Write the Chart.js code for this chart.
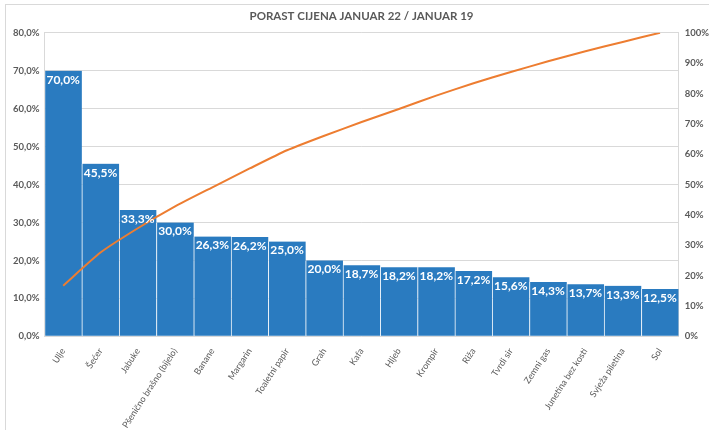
<!DOCTYPE html>
<html>
<head>
<meta charset="utf-8">
<script src="https://cdn.jsdelivr.net/npm/chart.js@4.4.1/dist/chart.umd.min.js"></script>
<style>
  body { margin: 0; background: #fff; }
  #wrap { position: relative; width: 709px; height: 430px; }
  #frame { position: absolute; left: 5px; top: 4px; right: 0; bottom: 0;
           border-left: 1px solid #d9d9d9; border-top: 1px solid #d9d9d9; pointer-events: none; }
</style>
</head>
<body>
<div id="wrap">
  <canvas id="chart" width="709" height="430"></canvas>
  <div id="frame"></div>
</div>
<script>
// categories
const categories = ["Ulje", "Šećer", "Jabuke", "Pšenično brašno (bijelo)", "Banane", "Margarin",
    "Toaletni papir", "Grah", "Kafa", "Hljeb", "Krompir", "Riža", "Tvrdi sir", "Zemni gas",
    "Junetina bez kosti", "Svježa piletina", "Sol"];
// price increase, %
const increase = [70.0, 45.5, 33.3, 30.0, 26.3, 26.2, 25.0, 20.0, 18.7, 18.2, 18.2, 17.2, 15.6, 14.3, 13.7, 13.3, 12.5];
// cumulative share, % (right axis)
const cumulative = [16.7, 27.6, 35.6, 42.8, 49.1, 55.3, 61.3, 66.1, 70.6, 74.9, 79.3, 83.4, 87.1, 90.6, 93.9, 97.0, 100.0];

const leftTicks = [0, 10, 20, 30, 40, 50, 60, 70, 80];
const rightTicks = [0, 10, 20, 30, 40, 50, 60, 70, 80, 90, 100];

const fmt = v => v.toFixed(1).replace('.', ',') + '%';
const grey = '#595959';

const barLabels = {
    id: 'barLabels',
    afterDatasetsDraw(chart) {
        const ctx = chart.ctx;
        const meta = chart.getDatasetMeta(1);
        ctx.save();
        ctx.font = 'bold 12px Lato';
        ctx.fillStyle = '#ffffff';
        ctx.textAlign = 'center';
        ctx.textBaseline = 'top';
        meta.data.forEach((bar, i) => {
            ctx.fillText(fmt(increase[i]), bar.x, bar.y + 3);
        });
        ctx.restore();
    }
};

new Chart(document.getElementById('chart'), {
    data: {
        labels: categories,
        datasets: [{
            type: 'line',
            data: cumulative,
            yAxisID: 'y1',
            borderColor: '#ed7d31',
            borderWidth: 2,
            pointRadius: 0,
            tension: 0.2,
            order: 0
        }, {
            type: 'bar',
            data: increase,
            yAxisID: 'y',
            backgroundColor: '#2a7bc0',
            borderColor: 'rgba(255,255,255,0.55)',
            borderWidth: { left: 1, right: 0, top: 0, bottom: 0 },
            barPercentage: 1,
            categoryPercentage: 1,
            order: 1
        }]
    },
    options: {
        responsive: false,
        animation: false,
        layout: { padding: { left: 8, right: -6, top: 0, bottom: -2 } },
        plugins: {
            legend: { display: false },
            tooltip: { enabled: false },
            title: {
                display: true,
                text: 'PORAST CIJENA JANUAR 22 / JANUAR 19',
                color: grey,
                font: { family: 'Lato', size: 11.5, weight: 'bold' },
                padding: { top: 9, bottom: 10 }
            }
        },
        scales: {
            x: {
                grid: { display: false },
                border: { display: false },
                ticks: {
                    color: grey,
                    font: { family: 'Lato', size: 9 },
                    maxRotation: 57,
                    minRotation: 57,
                    autoSkip: false,
                    padding: 2
                }
            },
            y: {
                position: 'left',
                min: 0,
                max: 80,
                afterBuildTicks: axis => { axis.ticks = leftTicks.map(v => ({ value: v })); },
                grid: { color: '#d9d9d9', drawTicks: false },
                border: { display: true, color: '#d9d9d9' },
                ticks: {
                    color: grey,
                    font: { family: 'Lato', size: 9.5, weight: 'bold' },
                    padding: 5,
                    callback: v => fmt(v)
                }
            },
            y1: {
                position: 'right',
                min: 0,
                max: 100,
                afterBuildTicks: axis => { axis.ticks = rightTicks.map(v => ({ value: v })); },
                grid: { display: false, drawTicks: false },
                border: { display: true, color: '#d9d9d9' },
                ticks: {
                    color: grey,
                    font: { family: 'Lato', size: 9.5, weight: 'bold' },
                    padding: 6,
                    callback: v => v + '%'
                }
            }
        }
    },
    plugins: [barLabels]
});
</script>
</body>
</html>
